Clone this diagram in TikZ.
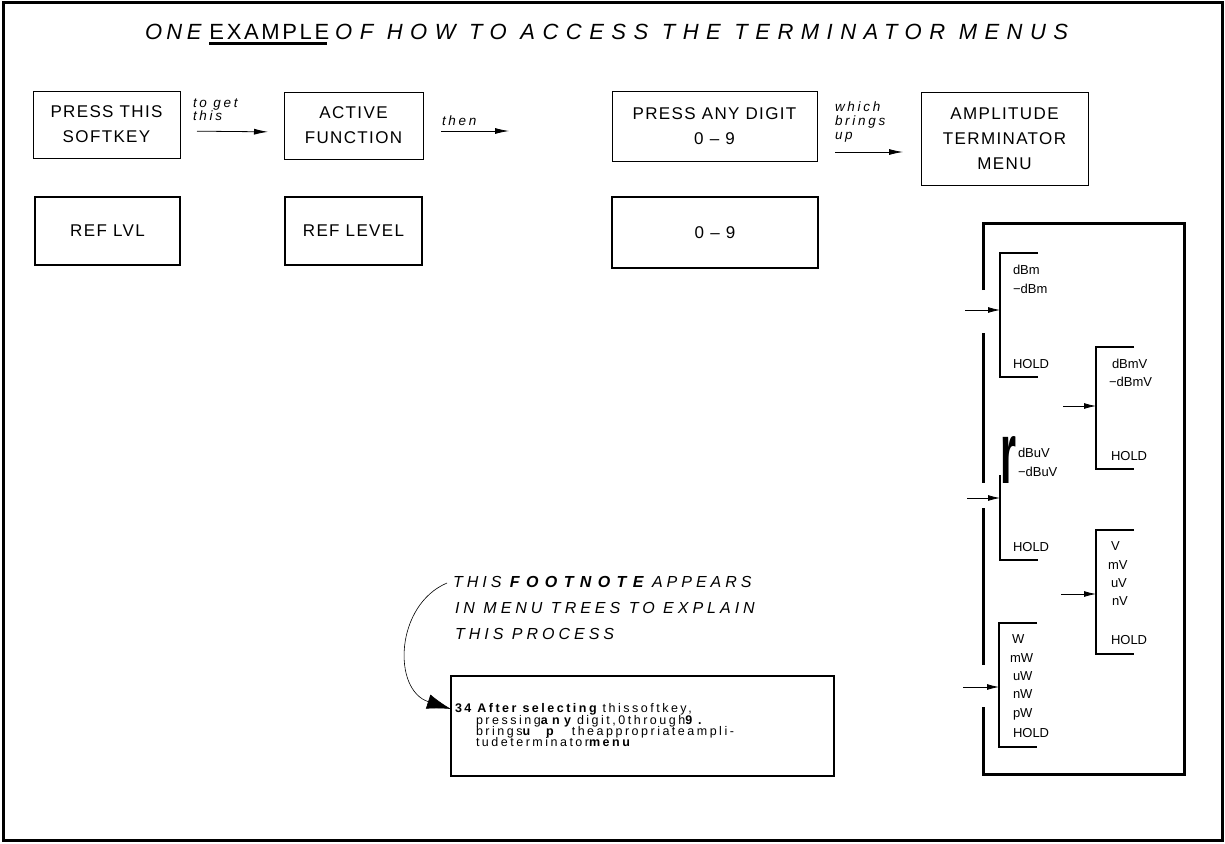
\documentclass[tikz,border=0pt]{standalone}
\usepackage{fontspec}
\setmainfont{Liberation Sans}
\usepackage{graphicx}
\usetikzlibrary{arrows.meta}
\newcommand\myfs[2]{\fontsize{#1}{#2}\selectfont}
\newcommand\myls[1]{\addfontfeatures{LetterSpace=#1}}
\tikzset{
  every node/.style={inner sep=0pt, outer sep=0pt},
  titletxt/.style={font=\myfs{22}{26}\itshape\myls{34}, anchor=west},
  keybox/.style={draw, line width=0.8pt, align=center, font=\myfs{17}{25}\myls{8}},
  refbox/.style={draw, line width=1.6pt, align=center, font=\myfs{17}{25}\myls{8}},
  lbl/.style={font=\myfs{13.5}{14}\itshape\myls{20}, anchor=base west},
  arr/.style={line width=0.8pt, -{Latex[length=14pt,width=6pt]}},
  sarr/.style={line width=0.8pt, -{Latex[length=12pt,width=6pt]}},
  menuline/.style={line width=3pt},
  brk/.style={minimum width=38pt},
  brkline/.style={line width=1.5pt},
  mtxt/.style={font=\myfs{13}{14}, anchor=base west},
  fncap/.style={font=\myfs{16}{18}\itshape\myls{25}, anchor=base west},
  fntxt/.style={font=\myfs{12.5}{12}\myls{20}, anchor=base west},
}
\begin{document}
\begin{tikzpicture}[x=1pt,y=-1pt]
\fill[white] (0,0) rectangle (1225,843);
\useasboundingbox (0,0) rectangle (1225,843);
\draw[line width=3pt] (3,3) rectangle (1222,840);

% title
\node[titletxt, font=\myfs{22}{26}\itshape\myls{20}] (t1) at (145,32) {ONE};
\node[anchor=west, font=\myfs{22}{26}\myls{12}] (t2) at ([xshift=8pt]t1.east) {EXAMPLE};
\node[titletxt] (t3) at ([xshift=6pt]t2.east) {OF HOW TO ACCESS THE TERMINATOR MENUS};
\draw[line width=2.5pt] ([yshift=-4pt]t2.south west) -- ([yshift=-4pt,xshift=-2pt]t2.south east);

% top row
\node[keybox, minimum width=147pt, minimum height=67pt] (b1) at (106.5,124.5) {PRESS THIS\\SOFTKEY};
\node[keybox, minimum width=139pt, minimum height=67pt] (b2) at (353.5,125.5) {ACTIVE\\FUNCTION};
\node[keybox, minimum width=205pt, minimum height=70pt] (b3) at (714.5,126) {PRESS ANY DIGIT\\0 – 9};
\node[keybox, minimum width=167pt, minimum height=93pt] (b4) at (1004.5,138.5) {AMPLITUDE\\TERMINATOR\\MENU};

% second row
\node[refbox, minimum width=145pt, minimum height=68pt] (r1) at (107.5,231) {REF LVL};
\node[refbox, minimum width=137pt, minimum height=68pt] (r2) at (353.5,231) {REF LEVEL};
\node[refbox, minimum width=206pt, minimum height=71pt] (r3) at (715,232.5) {0 – 9};

% arrows and labels
\draw[arr, shorten <=17pt, shorten >=16pt] ([yshift=-6.5pt]b1.east) -- ([yshift=-6.5pt]b2.west);
\node[lbl] (l1a) at (193,107) {to get};
\node[lbl] (l1b) at (193,120) {this};
\draw[arr, shorten <=18pt, shorten >=103pt] ([yshift=-5.5pt]b2.east) -- ([yshift=-5pt]b3.west);
\node[lbl] (l2) at (442,125) {then};
\draw[arr, shorten <=18pt, shorten >=18pt] ([yshift=-26pt]b3.east) -- ([yshift=-13.5pt]b4.west);
\node[lbl] (l3a) at (835,111) {which};
\node[lbl] (l3b) at (835,125) {brings};
\node[lbl] (l3c) at (835,139) {up};

% menu outer box
\draw[menuline] (983,290) -- (983,223) -- (1184,223) -- (1184,774) -- (983,774) -- (983,707);
\draw[menuline] (983,333) -- (983,483);
\draw[menuline] (983,508) -- (983,665);

% brackets
\node[brk, minimum height=124pt] (m1) at (1019,315) {};
\draw[brkline] (m1.north east) -- (m1.north west) -- (m1.south west) -- (m1.south east);
\node[brk, minimum height=85pt] (m2) at (1019,517.5) {};
\draw[brkline] (m2.north west) -- (m2.south west) -- (m2.south east);
\node[brk, minimum height=124pt] (m3) at (1018,685) {};
\draw[brkline] (m3.north east) -- (m3.north west) -- (m3.south west) -- (m3.south east);
\node[brk, minimum height=122pt] (m4) at (1115,408) {};
\draw[brkline] (m4.north east) -- (m4.north west) -- (m4.south west) -- (m4.south east);
\node[brk, minimum height=124pt] (m5) at (1115,592) {};
\draw[brkline] (m5.north east) -- (m5.north west) -- (m5.south west) -- (m5.south east);

\node[anchor=north west] (rr) at (1000,436) {\resizebox{16pt}{47pt}{\bfseries r}};

% arrows into brackets
\coordinate (a1) at (965,310);
\coordinate (a2) at (967,498);
\coordinate (a3) at (963,687);
\coordinate (a4) at (1063,406);
\coordinate (a5) at (1061,594);
\draw[sarr] (a1) -- (a1 -| m1.west);
\draw[sarr] (a2) -- (a2 -| m2.west);
\draw[sarr] (a3) -- (a3 -| m3.west);
\draw[sarr] (a4) -- (a4 -| m4.west);
\draw[sarr] (a5) -- (a5 -| m5.west);

% menu texts
\node[mtxt] (m1a) at (1013,274) {dBm};
\node[mtxt] (m1b) at (1013,293) {−dBm};
\node[mtxt] (m1c) at (1013,368) {HOLD};
\node[mtxt] (m2a) at (1018,457) {dBuV};
\node[mtxt] (m2b) at (1018,476) {−dBuV};
\node[mtxt] (m2c) at (1013,551) {HOLD};
\node[mtxt] (m3a) at (1012,643) {W};
\node[mtxt] (m3b) at (1010,662) {mW};
\node[mtxt] (m3c) at (1013,680) {uW};
\node[mtxt] (m3d) at (1013,698) {nW};
\node[mtxt] (m3e) at (1013,717) {pW};
\node[mtxt] (m3f) at (1013,737) {HOLD};
\node[mtxt] (m4a) at (1112,368) {dBmV};
\node[mtxt] (m4b) at (1109,386) {−dBmV};
\node[mtxt] (m4c) at (1111,460) {HOLD};
\node[mtxt] (m5a) at (1111,550) {V};
\node[mtxt] (m5b) at (1108,569) {mV};
\node[mtxt] (m5c) at (1111,587) {uV};
\node[mtxt] (m5d) at (1112,605) {nV};
\node[mtxt] (m5e) at (1111,644) {HOLD};

% footnote
\node[draw, line width=2.5pt, minimum width=383pt, minimum height=100pt] (fb) at (642.5,726) {};
\node[fncap] (c1) at (453,587) {THIS {\bfseries\myls{40}FOOTNOTE} APPEARS};
\node[fncap] (c2) at (455,613) {IN MENU TREES TO EXPLAIN};
\node[fncap] (c3) at (455,639) {THIS PROCESS};
\coordinate (cs) at (447,583);
\draw[line width=0.6pt, -{Latex[length=24pt,width=15pt]}] (cs) .. controls (395,605) and (392,690) .. ([yshift=17pt]fb.west);

\node[fntxt] (n1) at (455,712) {{\bfseries 34 After selecting} thissoftkey,};
\node[fntxt] (n2) at (476,724) {pressing{\bfseries\myls{35}any} digit,0through{\bfseries 9 .}};
\node[fntxt] (n3) at (476,735) {brings{\bfseries u\hspace{16pt}p}\hspace{18pt}theappropriateampli-};
\node[fntxt] (n4) at (476,746) {tudeterminator{\bfseries menu}};
\end{tikzpicture}
\end{document}
